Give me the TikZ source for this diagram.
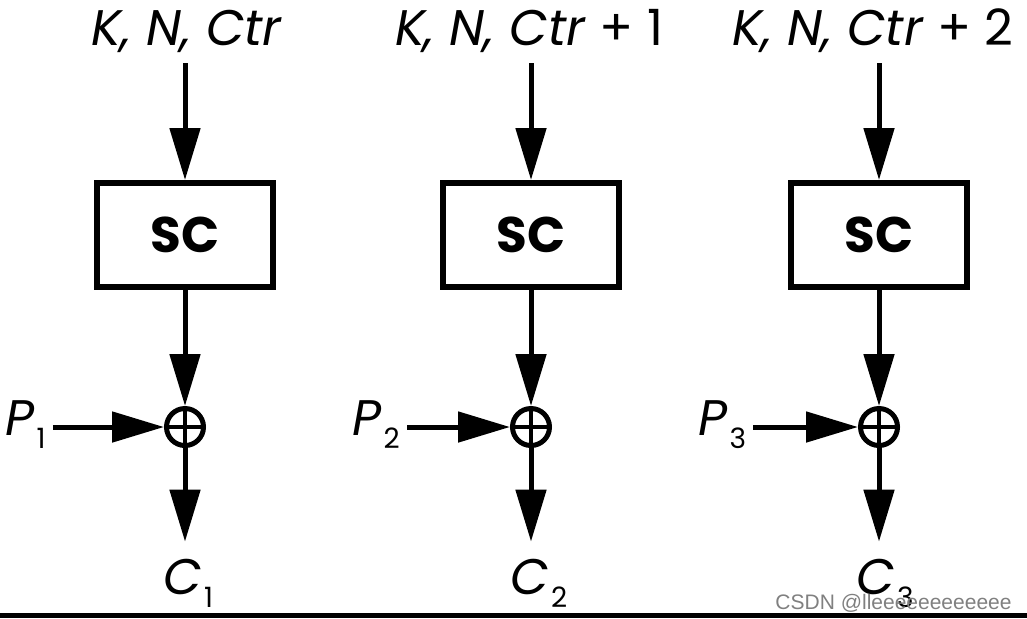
\documentclass[tikz,border=0pt]{standalone}
\usepackage{fontspec}
\setmainfont{Poppins}
\newfontfamily\markfont{Liberation Sans}
\usetikzlibrary{arrows.meta}

\tikzset{
  flow/.style={line width=2.5pt, -{Triangle[length=26pt,width=15pt]}},
  scbox/.style={draw, line width=3pt, minimum width=88pt, minimum height=52pt,
    inner sep=0pt, font=\fontsize{25}{30}\selectfont\bfseries},
  xorsym/.style={circle, draw, line width=2.5pt, minimum size=18.5pt, inner sep=0pt,
    path picture={\draw[line width=1.6pt]
      (path picture bounding box.north) -- (path picture bounding box.south)
      (path picture bounding box.west) -- (path picture bounding box.east);}},
  inlabel/.style={inner sep=0pt, text depth=0pt, font=\fontsize{25}{30}\selectfont},
  iolabel/.style={inner sep=0pt, text height=18pt, font=\fontsize{25}{30}\selectfont},
}
% letter with lowered index
\newcommand{\idxlbl}[2]{\textit{#1}\kern1pt\raisebox{-6.5pt}{\fontsize{14}{16}\selectfont #2}}

\begin{document}
\begin{tikzpicture}[x=0.5pt, y=-0.5pt]
        \useasboundingbox (0,0) rectangle (1027,618);

        % Inputs on top
        \node[inlabel, anchor=base] (kin1) at (187,45) {\textit{K, N, Ctr}};
        \node[inlabel, anchor=base] (kin2) at (529,45) {\textit{K, N, Ctr} + 1};
        \node[inlabel, anchor=base] (kin3) at (873,45) {\textit{K, N, Ctr} + 2};

        % Stream cipher boxes
        \node[scbox] (sc1) at (185,235) {SC};
        \node[scbox] (sc2) at (531,235) {SC};
        \node[scbox] (sc3) at (879,235) {SC};

        % XOR
        \node[xorsym] (x1) at (185,427) {};
        \node[xorsym] (x2) at (531,427) {};
        \node[xorsym] (x3) at (879,427) {};

        % Plaintext blocks
        \node[iolabel, anchor=base west] (p1) at (5,435) {\idxlbl{P}{1}};
        \node[iolabel, anchor=base west] (p2) at (352,435) {\idxlbl{P}{2}};
        \node[iolabel, anchor=base west] (p3) at (698,435) {\idxlbl{P}{3}};

        % Ciphertext blocks
        \node[iolabel, anchor=base west] (c1) at (163,594) {\idxlbl{C}{1}};
        \node[iolabel, anchor=base west] (c2) at (510,594) {\idxlbl{C}{2}};
        \node[iolabel, anchor=base west] (c3) at (856,594) {\idxlbl{C}{3}};

        % Arrows
        \draw[flow, shorten <=9pt] (kin1.south -| sc1) -- (sc1.north);
        \draw[flow, shorten <=9pt] (kin2.south -| sc2) -- (sc2.north);
        \draw[flow, shorten <=9pt] (kin3.south -| sc3) -- (sc3.north);

        \draw[flow] (sc1.south) -- (x1.north);
        \draw[flow] (sc2.south) -- (x2.north);
        \draw[flow] (sc3.south) -- (x3.north);

        \draw[flow, shorten <=3.5pt] (p1.east |- x1) -- (x1.west);
        \draw[flow, shorten <=3.5pt] (p2.east |- x2) -- (x2.west);
        \draw[flow, shorten <=3.5pt] (p3.east |- x3) -- (x3.west);

        \draw[flow, shorten >=8pt] (x1.south) -- (x1.south |- c1.north);
        \draw[flow, shorten >=8pt] (x2.south) -- (x2.south |- c2.north);
        \draw[flow, shorten >=8pt] (x3.south) -- (x3.south |- c3.north);

        % Watermark and bottom rule
        \node[anchor=base east, inner sep=0pt, text=black!50,
          font=\markfont\fontsize{10.5}{12}\selectfont] (mark) at (1012,609) {CSDN @lleeeeeeeeeeee};
        \fill (0,613) rectangle (1027,618);
\end{tikzpicture}
\end{document}
